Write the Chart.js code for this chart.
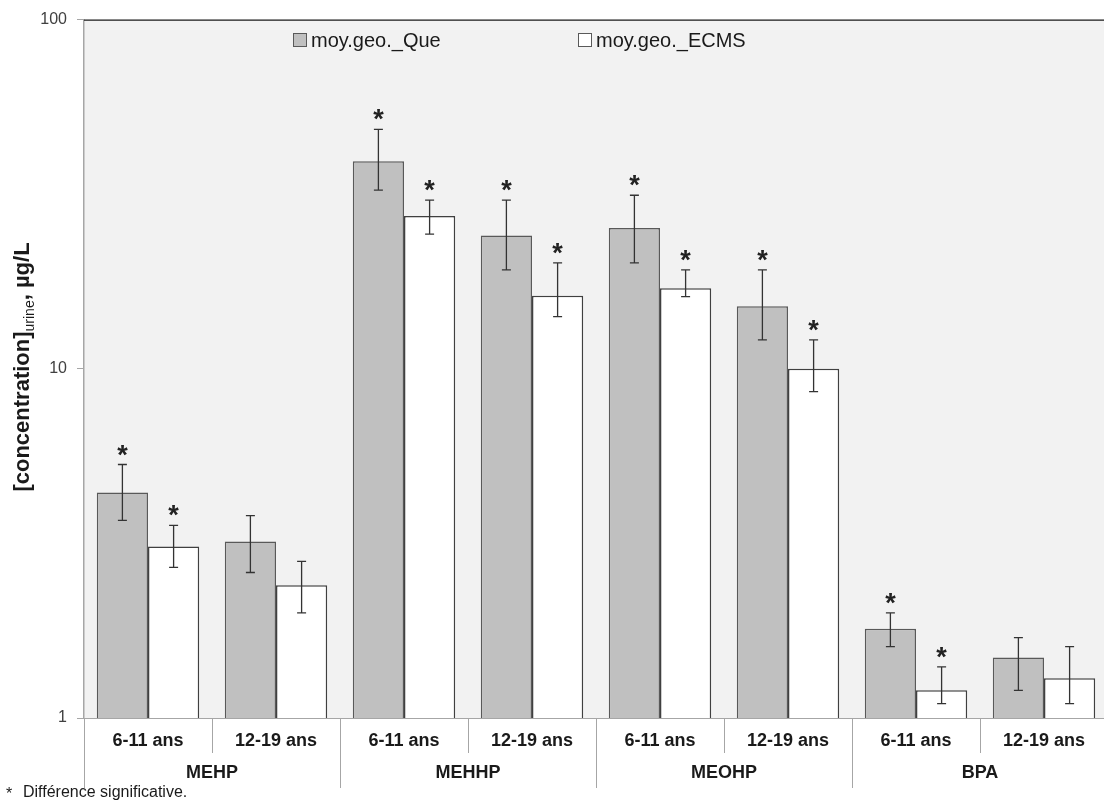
<!DOCTYPE html>
<html>
<head>
<meta charset="utf-8">
<script src="https://cdn.jsdelivr.net/npm/chart.js@4"></script>
<style>
    html, body { margin: 0; padding: 0; background: #ffffff; overflow: hidden; }
    #wrap { width: 1108px; height: 808px; }
</style>
</head>
<body>
<div id="wrap"><canvas id="chart"></canvas></div>
<script>
const groups = ['MEHP', 'MEHHP', 'MEOHP', 'BPA'];
const ages = ['6-11 ans', '12-19 ans', '6-11 ans', '12-19 ans', '6-11 ans', '12-19 ans', '6-11 ans', '12-19 ans'];
const yTicks = [1, 10, 100];

const queValues = [4.42, 3.2, 39.3, 24.1, 25.3, 15.1, 1.8, 1.49];
const queLow = [3.68, 2.61, 32.5, 19.2, 20.1, 12.1, 1.6, 1.2];
const queHigh = [5.32, 3.8, 48.5, 30.4, 31.4, 19.2, 2.0, 1.7];
const queSig = [true, false, true, true, true, true, true, false];

const ecmsValues = [3.1, 2.4, 27.4, 16.2, 17.0, 10.0, 1.2, 1.3];
const ecmsLow = [2.7, 2.0, 24.3, 14.1, 16.1, 8.6, 1.1, 1.1];
const ecmsHigh = [3.56, 2.81, 30.4, 20.1, 19.2, 12.1, 1.4, 1.6];
const ecmsSig = [true, false, true, true, true, true, true, false];

const FONT = '"Liberation Sans", Arial, sans-serif';

const errorBars = [
    { low: queLow, high: queHigh, sig: queSig },
    { low: ecmsLow, high: ecmsHigh, sig: ecmsSig }
];

const decorPlugin = {
    id: 'decor',
    beforeDraw(chart) {
        const { ctx, chartArea: a } = chart;
        ctx.save();
        ctx.fillStyle = '#f2f2f2';
        ctx.fillRect(a.left, a.top, a.right - a.left, a.bottom - a.top);
        ctx.restore();
    },
    afterDatasetsDraw(chart) {
        const { ctx } = chart;
        const y = chart.scales.y;
        ctx.save();
        errorBars.forEach((eb, di) => {
            const meta = chart.getDatasetMeta(di);
            meta.data.forEach((bar, i) => {
                const x = bar.x;
                const yHi = y.getPixelForValue(eb.high[i]);
                const yLo = y.getPixelForValue(eb.low[i]);
                ctx.strokeStyle = '#333333';
                ctx.lineWidth = 1.3;
                ctx.beginPath();
                ctx.moveTo(x, yHi);
                ctx.lineTo(x, yLo);
                ctx.moveTo(x - 4.5, yHi);
                ctx.lineTo(x + 4.5, yHi);
                ctx.moveTo(x - 4.5, yLo);
                ctx.lineTo(x + 4.5, yLo);
                ctx.stroke();
                if (eb.sig[i]) {
                    ctx.fillStyle = '#222222';
                    ctx.font = 'bold 27px ' + FONT;
                    ctx.textAlign = 'center';
                    ctx.textBaseline = 'alphabetic';
                    ctx.fillText('*', x, yHi - 1);
                }
            });
        });
        ctx.restore();
    },
    afterDraw(chart) {
        const { ctx, chartArea: a } = chart;
        const x = chart.scales.x;
        const catW = (a.right - a.left) / ages.length;
        ctx.save();

        // top border of plot
        ctx.strokeStyle = '#1a1a1a';
        ctx.lineWidth = 1.2;
        ctx.beginPath();
        ctx.moveTo(a.left, a.top + 0.5);
        ctx.lineTo(a.right, a.top + 0.5);
        ctx.stroke();

        // category separators below axis
        ctx.strokeStyle = '#a6a6a6';
        ctx.lineWidth = 1;
        for (let k = 0; k <= ages.length; k++) {
            const px = Math.round(a.left + k * catW) + 0.5;
            const end = k % 2 === 0 ? 788 : 753;
            ctx.beginPath();
            ctx.moveTo(px, a.bottom);
            ctx.lineTo(px, end);
            ctx.stroke();
        }

        // two-level labels
        ctx.fillStyle = '#1a1a1a';
        ctx.font = 'bold 18px ' + FONT;
        ctx.textAlign = 'center';
        ctx.textBaseline = 'middle';
        ages.forEach((lab, i) => {
            ctx.fillText(lab, x.getPixelForValue(i), 741);
        });
        groups.forEach((g, i) => {
            ctx.fillText(g, a.left + (2 * i + 1) * catW, 773);
        });

        // footnote
        ctx.font = '16px ' + FONT;
        ctx.textAlign = 'left';
        ctx.fillText('*', 6, 795);
        ctx.fillText('Différence significative.', 23, 793);

        // legend
        const legend = [
            { text: 'moy.geo._Que', fill: '#c0c0c0', stroke: '#595959', x: 293 },
            { text: 'moy.geo._ECMS', fill: '#ffffff', stroke: '#595959', x: 578 }
        ];
        ctx.font = '20px ' + FONT;
        ctx.textBaseline = 'middle';
        legend.forEach(l => {
            ctx.fillStyle = l.fill;
            ctx.fillRect(l.x + 0.5, 33.5, 13, 13);
            ctx.strokeStyle = l.stroke;
            ctx.lineWidth = 1;
            ctx.strokeRect(l.x + 0.5, 33.5, 13, 13);
            ctx.fillStyle = '#1a1a1a';
            ctx.fillText(l.text, l.x + 18, 41);
        });

        // y-axis title with subscript
        ctx.translate(22, 367);
        ctx.rotate(-Math.PI / 2);
        const p1 = '[concentration]';
        const p2 = 'urine';
        const p3 = ', µg/L';
        ctx.font = 'bold 22px ' + FONT;
        const w1 = ctx.measureText(p1).width;
        const w3 = ctx.measureText(p3).width;
        ctx.font = '14px ' + FONT;
        const w2 = ctx.measureText(p2).width;
        let cx = -(w1 + w2 + w3) / 2;
        ctx.textAlign = 'left';
        ctx.textBaseline = 'alphabetic';
        ctx.fillStyle = '#1a1a1a';
        ctx.font = 'bold 22px ' + FONT;
        ctx.fillText(p1, cx, 7);
        cx += w1;
        ctx.font = '14px ' + FONT;
        ctx.fillText(p2, cx, 12);
        cx += w2;
        ctx.font = 'bold 22px ' + FONT;
        ctx.fillText(p3, cx, 7);

        ctx.restore();
    }
};

const ctx = document.getElementById('chart').getContext('2d');

new Chart(ctx, {
    type: 'bar',
    data: {
        labels: ages,
        datasets: [
            {
                label: 'moy.geo._Que',
                data: queValues,
                backgroundColor: '#c0c0c0',
                borderColor: '#595959',
                borderWidth: 1.5,
                categoryPercentage: 0.8,
                barPercentage: 1.0
            },
            {
                label: 'moy.geo._ECMS',
                data: ecmsValues,
                backgroundColor: '#ffffff',
                borderColor: '#404040',
                borderWidth: 1.5,
                categoryPercentage: 0.8,
                barPercentage: 1.0
            }
        ]
    },
    options: {
        responsive: true,
        maintainAspectRatio: false,
        animation: false,
        layout: {
            padding: { top: 17, left: 0, right: 0, bottom: 0 }
        },
        plugins: {
            legend: { display: false },
            tooltip: { enabled: false }
        },
        scales: {
            x: {
                ticks: { display: false },
                grid: { display: false },
                border: { color: '#a6a6a6', width: 1 },
                afterFit(scale) {
                    scale.height = 90;
                }
            },
            y: {
                type: 'logarithmic',
                min: 1,
                max: 100,
                afterBuildTicks(scale) {
                    scale.ticks = yTicks.map(v => ({ value: v }));
                },
                afterFit(scale) {
                    scale.width = 84;
                },
                ticks: {
                    color: '#404040',
                    font: { family: FONT, size: 16 },
                    padding: 10,
                    callback: v => String(v)
                },
                grid: {
                    drawOnChartArea: false,
                    drawTicks: true,
                    tickLength: 7,
                    color: '#a6a6a6'
                },
                border: { color: '#a6a6a6', width: 1.5 }
            }
        }
    },
    plugins: [decorPlugin]
});
</script>
</body>
</html>
